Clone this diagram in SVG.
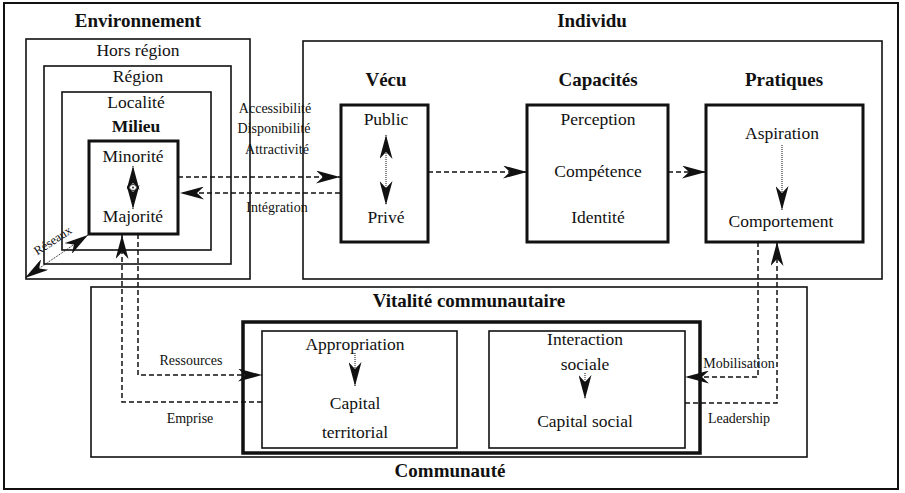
<svg xmlns="http://www.w3.org/2000/svg" width="905" height="493" viewBox="0 0 905 493" font-family="'Liberation Serif', 'DejaVu Serif', 'Times New Roman', serif">
<style>
text{font-family:'Liberation Serif','DejaVu Serif',serif;fill:#111;text-anchor:middle}
.t{font-size:19px;font-weight:bold}
.b{font-size:17.5px}
.s{font-size:14px}
.r{font-size:12.5px}
.box{fill:none;stroke:#111;stroke-width:1.6}
.thick{fill:none;stroke:#111;stroke-width:3}
.dash{fill:none;stroke:#111;stroke-width:1.5;stroke-dasharray:5 3}
.dot{fill:none;stroke:#111;stroke-width:1;stroke-dasharray:1 1}
</style>
<defs>
<marker id="ah" viewBox="0 0 24 13" refX="24" refY="6.5" markerWidth="24" markerHeight="13" markerUnits="userSpaceOnUse" orient="auto-start-reverse">
<path d="M0,0 L24,6.5 L0,13 L7,6.5 Z" fill="#111"/>
</marker>
</defs>
<rect x="0" y="0" width="905" height="493" fill="#fff"/>
<rect x="4" y="3" width="894" height="486" fill="none" stroke="#111" stroke-width="2"/>

<g id="environnement">
<text class="t" x="138" y="27">Environnement</text>
<rect class="box" x="26" y="39" width="224" height="240"/>
<text class="b" x="138" y="56">Hors région</text>
<rect class="box" x="44" y="66" width="187" height="198"/>
<text class="b" x="138" y="82">Région</text>
<rect class="box" x="62" y="92" width="149" height="158"/>
<text class="b" x="136" y="108">Localité</text>
<text class="b" x="136" y="132" font-weight="bold">Milieu</text>
</g>
<g id="milieu">
<rect class="thick" x="89" y="141" width="89" height="93"/>
<text class="b" x="133" y="162">Minorité</text>
<text class="b" x="133" y="222">Majorité</text>
</g>

<g id="individu">
<text class="t" x="592" y="27">Individu</text>
<rect class="box" x="303" y="41" width="579" height="238"/>
</g>
<g id="vecu">
<text class="t" x="386" y="86">Vécu</text>
<rect class="thick" x="341" y="105" width="87" height="137"/>
<text class="b" x="386" y="125">Public</text>
<text class="b" x="386" y="223">Privé</text>
</g>
<g id="capacites">
<text class="t" x="598" y="86">Capacités</text>
<rect class="thick" x="527" y="105" width="141" height="137"/>
<text class="b" x="598" y="125">Perception</text>
<text class="b" x="598" y="177">Compétence</text>
<text class="b" x="598" y="223">Identité</text>
</g>
<g id="pratiques">
<text class="t" x="784" y="86">Pratiques</text>
<rect class="thick" x="706" y="105" width="157" height="137"/>
<text class="b" x="782" y="139">Aspiration</text>
<text class="b" x="781" y="227">Comportement</text>
</g>

<g id="communaute">
<rect class="box" x="91" y="287" width="716" height="170"/>
<text class="t" x="469" y="307">Vitalité communautaire</text>
<text class="t" x="450" y="477">Communauté</text>
</g>
<g id="vitalite">
<rect x="243" y="322" width="457" height="131" fill="none" stroke="#111" stroke-width="3.5"/>
</g>
<g id="appropriation">
<rect class="box" x="262" y="331" width="195" height="117" stroke-width="2"/>
<text class="b" x="355" y="350">Appropriation</text>
<text class="b" x="355" y="409">Capital</text>
<text class="b" x="355" y="438">territorial</text>
</g>
<g id="interaction">
<rect class="box" x="489" y="331" width="196" height="117" stroke-width="2"/>
<text class="b" x="585" y="345">Interaction</text>
<text class="b" x="585" y="370">sociale</text>
<text class="b" x="585" y="427">Capital social</text>
</g>

<g id="connectors">
<path class="dash" d="M178,177 H340" marker-end="url(#ah)"/>
<path class="dash" d="M340,193 H180" marker-end="url(#ah)"/>
<path class="dash" d="M428,172 H527" marker-end="url(#ah)"/>
<path class="dash" d="M668,172 H706" marker-end="url(#ah)"/>
<path class="dot" d="M386,135 V205" marker-start="url(#ah)" marker-end="url(#ah)"/>
<path class="dot" d="M133,166 V209" marker-start="url(#ah)" marker-end="url(#ah)"/>
<ellipse cx="133" cy="187.5" rx="3.5" ry="3" fill="#fff" stroke="#111" stroke-width="0.8"/>
<circle cx="133" cy="187.5" r="0.9" fill="#111"/>
<path class="dot" d="M782,145 V210" marker-end="url(#ah)"/>
<path class="dot" d="M355,353 V386" marker-end="url(#ah)"/>
<path class="dot" d="M585,373 V399" marker-end="url(#ah)"/>
<path class="dash" d="M138,234 V375 H262" marker-end="url(#ah)"/>
<path class="dash" d="M262,402 H122 V235" marker-end="url(#ah)"/>
<path class="dash" d="M758,242 V377 H685" marker-end="url(#ah)"/>
<path class="dash" d="M685,403 H777 V242" marker-end="url(#ah)"/>
<path class="dot" d="M88,235 L25,278" marker-start="url(#ah)" marker-end="url(#ah)"/>
<text class="s" x="275" y="113">Accessibilité</text>
<text class="s" x="274" y="133">Disponibilité</text>
<text class="s" x="277" y="154">Attractivité</text>
<text class="s" x="277" y="212">Intégration</text>
<text class="s" x="191" y="365">Ressources</text>
<text class="s" x="190" y="423">Emprise</text>
<text class="s" x="739" y="368">Mobilisation</text>
<text class="s" x="739" y="423">Leadership</text>
<text class="r" transform="translate(55,244) rotate(-33)">Réseaux</text>
</g>
</svg>
